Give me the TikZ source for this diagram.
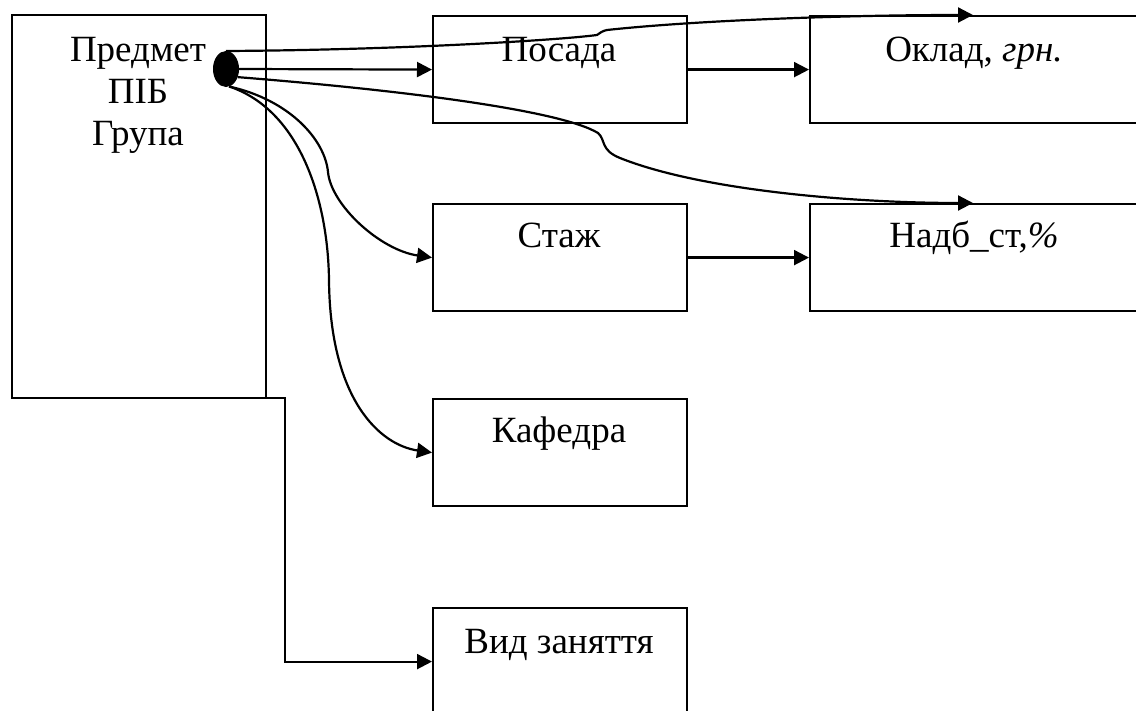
\documentclass[tikz,border=0pt]{standalone}
\usepackage{fontspec}
\setmainfont{Liberation Serif}
\newfontfamily\tnr{Liberation Serif}
\usetikzlibrary{arrows.meta,shapes.geometric}
\begin{document}
\begin{tikzpicture}[x=0.5pt,y=-0.5pt, line width=1.1pt,
  box/.style={draw, line width=1.1pt, rectangle, anchor=north west, inner sep=0,
              minimum width=127pt, minimum height=53.5pt},
  widebox/.style={box, minimum width=165.5pt},
  txt/.style={anchor=base, inner sep=0, font=\tnr\fontsize{18.5}{21}\selectfont},
  conn/.style={-{Triangle[length=7.5pt,width=7.5pt]}, line width=1.1pt}]
\useasboundingbox (0,0) rectangle (1136,711);
\clip (0,0) rectangle (1136,711);

% boxes
\node[box, minimum height=191.5pt] (main) at (11,14) {};
\node[box] (posada) at (432,15) {};
\node[widebox] (oklad) at (809,15) {};
\node[box] (stazh) at (432,203) {};
\node[widebox] (nadb) at (809,203) {};
\node[box] (kaf) at (432,398) {};
\node[box] (vid) at (432,607) {};

% texts
\node[txt] (t1) at (138,62) {Предмет};
\node[txt] (t2) at (138,104) {ПІБ};
\node[txt] (t3) at (138,146) {Група};
\node[txt] (tposada) at (559,62) {Посада};
\node[txt] (toklad) at (974,62) {Оклад, \textit{грн.}};
\node[txt] (tstazh) at (559,248) {Стаж};
\node[txt] (tnadb) at (974,248) {Надб\_ст,\textit{\%}};
\node[txt] (tkaf) at (559,443) {Кафедра};
\node[txt] (tvid) at (559,653) {Вид заняття};

% dot
\node[ellipse, fill=black, draw=black, line width=0.5pt, inner sep=0,
      minimum width=12.5pt, minimum height=17.5pt] (dot) at (226,69) {};

\coordinate (oklin) at (973,15);
\coordinate (nadbin) at (973,203);
\coordinate (vstart) at (138,398);

% connectors
\draw[conn] (dot.north) .. controls (400,50) and (560,40) .. (597,35)
  .. controls (600,33) and (602,31) .. (607,30)
  .. controls (700,20) and (850,15) .. (oklin);
\draw[conn] (dot.east) -- (posada.west);
\draw[conn] (dot.-35) .. controls (400,90) and (560,110) .. (598,133)
  .. controls (606,140) and (600,150) .. (620,158)
  .. controls (700,190) and (850,203) .. (nadbin);
\draw[conn] (dot.-80) .. controls (290,100) and (325,140) .. (328,172)
  .. controls (331,205) and (380,250) .. (stazh.west);
\draw[conn] (dot.-80) .. controls (300,110) and (328,200) .. (329,280)
  .. controls (330,400) and (380,445) .. (kaf.west);
\draw[conn] (posada.east) -- (oklad.west);
\draw[conn] (stazh.east) -- (nadb.west);
\draw[conn] (vstart) -- (285,398) |- (vid.west);
\end{tikzpicture}
\end{document}
